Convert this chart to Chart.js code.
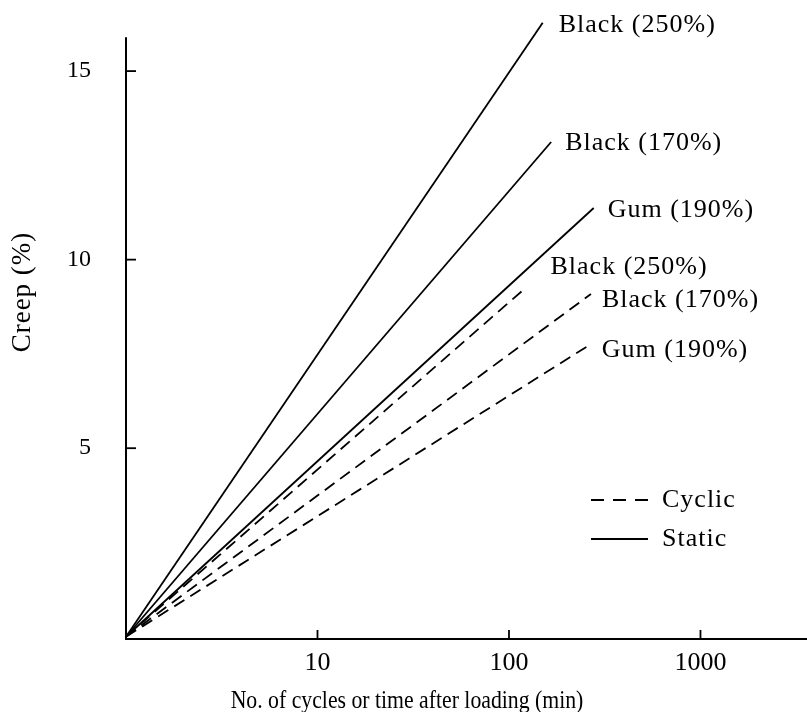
<!DOCTYPE html>
<html>
<head>
<meta charset="utf-8">
<script src="https://cdn.jsdelivr.net/npm/chart.js@4.4.1/dist/chart.umd.min.js"></script>
<style>
  html, body { margin: 0; padding: 0; background: #fff; }
  #wrap { width: 807px; height: 712px; }
</style>
</head>
<body>
<div id="wrap"><canvas id="c" width="807" height="712"></canvas></div>
<script>
// ---- data ----
const seriesNames = ['Black (250%)', 'Black (170%)', 'Gum (190%)'];
const startX = 1;          // all curves start at origin
const startY = 0;
const staticEndX = [150, 166, 277];
const staticEndY = [16.28, 13.12, 11.37];
const cyclicEndX = [122, 268, 258];
const cyclicEndY = [9.25, 9.09, 7.71];
const xTickValues = [10, 100, 1000];
const yTickValues = [5, 10, 15];
const xTitle = 'No. of cycles or time after loading (min)';
const yTitle = 'Creep (%)';
const legendLabels = ['Cyclic', 'Static'];

// ---- styling / label placement (pixels, not data) ----
const FONT = '"Liberation Serif", "Times New Roman", serif';
const staticLabelOffset = [[16, 2], [14, 1], [14, 2]];
const cyclicLabelOffset = [[25, -21], [11, 6], [14, 4]];
const DASH = [12, 7];

function makeSet(name, ex, ey, dashed) {
  return {
    label: name + (dashed ? ' cyclic' : ' static'),
    data: [{x: startX, y: startY}, {x: ex, y: ey}],
    borderColor: '#000',
    borderWidth: 1.8,
    borderDash: dashed ? DASH : [],
    pointRadius: 0,
    fill: false,
    tension: 0,
    clip: false
  };
}

const datasets = [];
seriesNames.forEach((n, i) => datasets.push(makeSet(n, staticEndX[i], staticEndY[i], false)));
seriesNames.forEach((n, i) => datasets.push(makeSet(n, cyclicEndX[i], cyclicEndY[i], true)));

const decor = {
  id: 'decor',
  afterDraw(chart) {
    const ctx = chart.ctx;
    const xs = chart.scales.x, ys = chart.scales.y;
    const x0 = xs.left, yB = ys.bottom;
    ctx.save();
    ctx.strokeStyle = '#000';
    ctx.fillStyle = '#000';
    ctx.lineWidth = 2;
    // axes
    ctx.beginPath();
    ctx.moveTo(x0, ys.getPixelForValue(15.9));
    ctx.lineTo(x0, yB);
    ctx.lineTo(xs.right, yB);
    ctx.stroke();
    // inward ticks
    ctx.lineWidth = 1.8;
    yTickValues.forEach(v => {
      const p = ys.getPixelForValue(v);
      ctx.beginPath(); ctx.moveTo(x0, p); ctx.lineTo(x0 + 10, p); ctx.stroke();
    });
    xTickValues.forEach(v => {
      const p = xs.getPixelForValue(v);
      ctx.beginPath(); ctx.moveTo(p, yB); ctx.lineTo(p, yB - 9); ctx.stroke();
    });
    // end labels
    ctx.font = '26px ' + FONT;
    ctx.letterSpacing = '1px';
    ctx.textAlign = 'left';
    ctx.textBaseline = 'middle';
    seriesNames.forEach((n, i) => {
      const px = xs.getPixelForValue(staticEndX[i]);
      const py = ys.getPixelForValue(staticEndY[i]);
      ctx.fillText(n, px + staticLabelOffset[i][0], py + staticLabelOffset[i][1]);
      const qx = xs.getPixelForValue(cyclicEndX[i]);
      const qy = ys.getPixelForValue(cyclicEndY[i]);
      ctx.fillText(n, qx + cyclicLabelOffset[i][0], qy + cyclicLabelOffset[i][1]);
    });
    // legend
    ctx.lineWidth = 1.8;
    ctx.setLineDash([13, 9]);
    ctx.beginPath(); ctx.moveTo(591, 500); ctx.lineTo(648, 500); ctx.stroke();
    ctx.setLineDash([]);
    ctx.beginPath(); ctx.moveTo(591, 539); ctx.lineTo(648, 539); ctx.stroke();
    ctx.fillText(legendLabels[0], 662, 500);
    ctx.fillText(legendLabels[1], 662, 539);
    // axis titles
    ctx.letterSpacing = '0px';
    ctx.textAlign = 'center';
    ctx.save();
    ctx.translate(407, 701);
    ctx.scale(0.87, 1);
    ctx.font = '25px ' + FONT;
    ctx.fillText(xTitle, 0, 0);
    ctx.restore();
    ctx.save();
    ctx.translate(23, 292);
    ctx.rotate(-Math.PI / 2);
    ctx.font = '27px ' + FONT;
    ctx.letterSpacing = '1px';
    ctx.fillText(yTitle, 0, 0);
    ctx.restore();
    ctx.restore();
  }
};

new Chart(document.getElementById('c'), {
  type: 'line',
  data: { datasets },
  options: {
    responsive: false,
    animation: false,
    events: [],
    layout: { padding: { left: 0, right: 0, top: 10, bottom: 0 } },
    plugins: { legend: { display: false }, tooltip: { enabled: false } },
    scales: {
      x: {
        type: 'logarithmic',
        min: 1,
        max: 3600,
        grid: { display: false, drawTicks: false },
        border: { display: false },
        afterBuildTicks: s => { s.ticks = xTickValues.map(v => ({ value: v })); },
        afterFit: s => { s.height = 73; s.paddingLeft = 0; s.paddingRight = 0; },
        ticks: {
          color: '#000',
          padding: 9,
          maxRotation: 0,
          autoSkip: false,
          font: { family: FONT, size: 26 },
          callback: v => String(v)
        }
      },
      y: {
        type: 'linear',
        min: -0.06,
        max: 16.62,
        grid: { display: false, drawTicks: false },
        border: { display: false },
        afterBuildTicks: s => { s.ticks = yTickValues.map(v => ({ value: v })); },
        afterFit: s => { s.width = 126; s.paddingTop = 0; s.paddingBottom = 0; },
        ticks: {
          color: '#000',
          padding: 35,
          font: { family: FONT, size: 24 },
          callback: v => String(v)
        }
      }
    }
  },
  plugins: [decor]
});
</script>
</body>
</html>
